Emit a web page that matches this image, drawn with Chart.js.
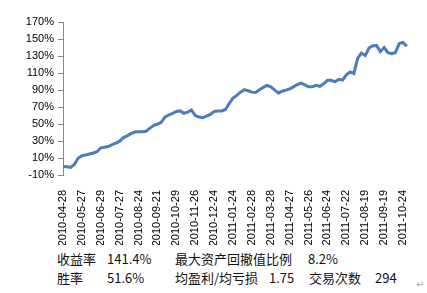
<!DOCTYPE html>
<html>
<head>
<meta charset="utf-8">
<script src="https://cdn.jsdelivr.net/npm/chart.js@4/dist/chart.umd.min.js"></script>
<style>
  body { margin: 0; background: #fff; width: 427px; height: 293px; position: relative; overflow: hidden; }
  #wrap { position: absolute; left: 0; top: 0; width: 427px; height: 245px; }
  .t { position: absolute; font-family: "Noto Sans CJK SC", sans-serif; font-size: 13px; line-height: 13px; color: #111; white-space: nowrap; }
  .r1 { top: 252px; }
  .r2 { top: 271px; }
  #mark { position: absolute; left: 416px; top: 279px; font-size: 10px; color: #aaa; font-family: "DejaVu Sans", sans-serif; }
</style>
</head>
<body>
<div id="wrap"><canvas id="graph"></canvas></div>

<span class="t r1" style="left:57px">收益率</span>
<span class="t r1" style="left:107px">141.4%</span>
<span class="t r1" style="left:175px">最大资产回撤值比例</span>
<span class="t r1" style="left:308px">8.2%</span>

<span class="t r2" style="left:57px">胜率</span>
<span class="t r2" style="left:107px">51.6%</span>
<span class="t r2" style="left:175px">均盈利/均亏损</span>
<span class="t r2" style="left:269px">1.75</span>
<span class="t r2" style="left:309px">交易次数</span>
<span class="t r2" style="left:375px">294</span>
<span id="mark">↵</span>

<script>
// one tick label every 5 points
const tickLabels = ['2010-04-28', '2010-05-27', '2010-06-29', '2010-07-27', '2010-08-24', '2010-09-21',
    '2010-10-29', '2010-11-26', '2010-12-24', '2011-01-24', '2011-02-28', '2011-03-28', '2011-04-27',
    '2011-05-26', '2011-06-24', '2011-07-22', '2011-08-19', '2011-09-19', '2011-10-24'];

// cumulative return, %
const returns = [
    0, -0.4, -1, 2.5, 9.7, 12.7, 13.6, 14.7, 15.9, 17.4,
    22, 22.7, 23.5, 25.7, 27.6, 29.8, 34, 36, 38.7, 40.5,
    41, 41, 41.4, 45.2, 48.2, 50, 52, 58.2, 60.6, 62.6,
    64.7, 65.4, 62.6, 63.9, 66.5, 60, 58.2, 57.3, 59.4, 61.2,
    64.7, 65.3, 65.3, 67.1, 74.2, 80.5, 83.7, 87.5, 90.4, 89.1,
    87.5, 87.2, 90.4, 93.1, 95.3, 93.7, 90.2, 86.6, 88.6, 89.9,
    91.4, 93.7, 96.4, 98.1, 96.1, 93.7, 93.7, 95.5, 94.3, 97.3,
    101.4, 101.4, 99.6, 102.6, 101.7, 107.9, 111.2, 109.5, 127.5, 133.4,
    130.4, 139.3, 142.1, 142.2, 135.1, 139.9, 134, 132.8, 134.2, 144.6,
    146, 141.4
];

const yTicks = { min: -10, max: 170, step: 20 };

const labels = returns.map((_, i) => i % 5 === 0 && tickLabels[i / 5] ? tickLabels[i / 5] : '');
const axisGray = '#868686';

const data = {
    labels: labels,
    datasets: [{
        data: returns,
        borderColor: '#4a7ebb',
        borderWidth: 3,
        pointRadius: 0,
        tension: 0,
        fill: false
    }]
};

const config = {
    type: 'line',
    data: data,
    options: {
        responsive: true,
        maintainAspectRatio: false,
        animation: false,
        layout: { padding: { left: 0, top: 22, right: 19, bottom: 0 } },
        plugins: { legend: { display: false }, tooltip: { enabled: false } },
        scales: {
            x: {
                grid: { display: false },
                border: { display: false },
                ticks: {
                    autoSkip: false,
                    maxRotation: 90,
                    minRotation: 90,
                    padding: 7,
                    color: '#000',
                    font: { family: 'Liberation Sans', size: 11 }
                },
                afterFit: (scale) => { scale.height = 70; }
            },
            y: {
                min: yTicks.min,
                max: yTicks.max,
                border: { display: true, color: axisGray, width: 1 },
                grid: {
                    color: (ctx) => ctx.tick && ctx.tick.value === 0 ? axisGray : 'rgba(0,0,0,0)',
                    tickColor: axisGray,
                    tickLength: 5,
                    lineWidth: 1
                },
                ticks: {
                    stepSize: yTicks.step,
                    padding: 4,
                    color: '#000',
                    font: { family: 'Liberation Sans', size: 11 },
                    callback: (v) => v + '%'
                },
                afterFit: (scale) => { scale.width = 63; }
            }
        }
    }
};

const graph = new Chart(document.getElementById("graph"), config);
</script>
</body>
</html>
